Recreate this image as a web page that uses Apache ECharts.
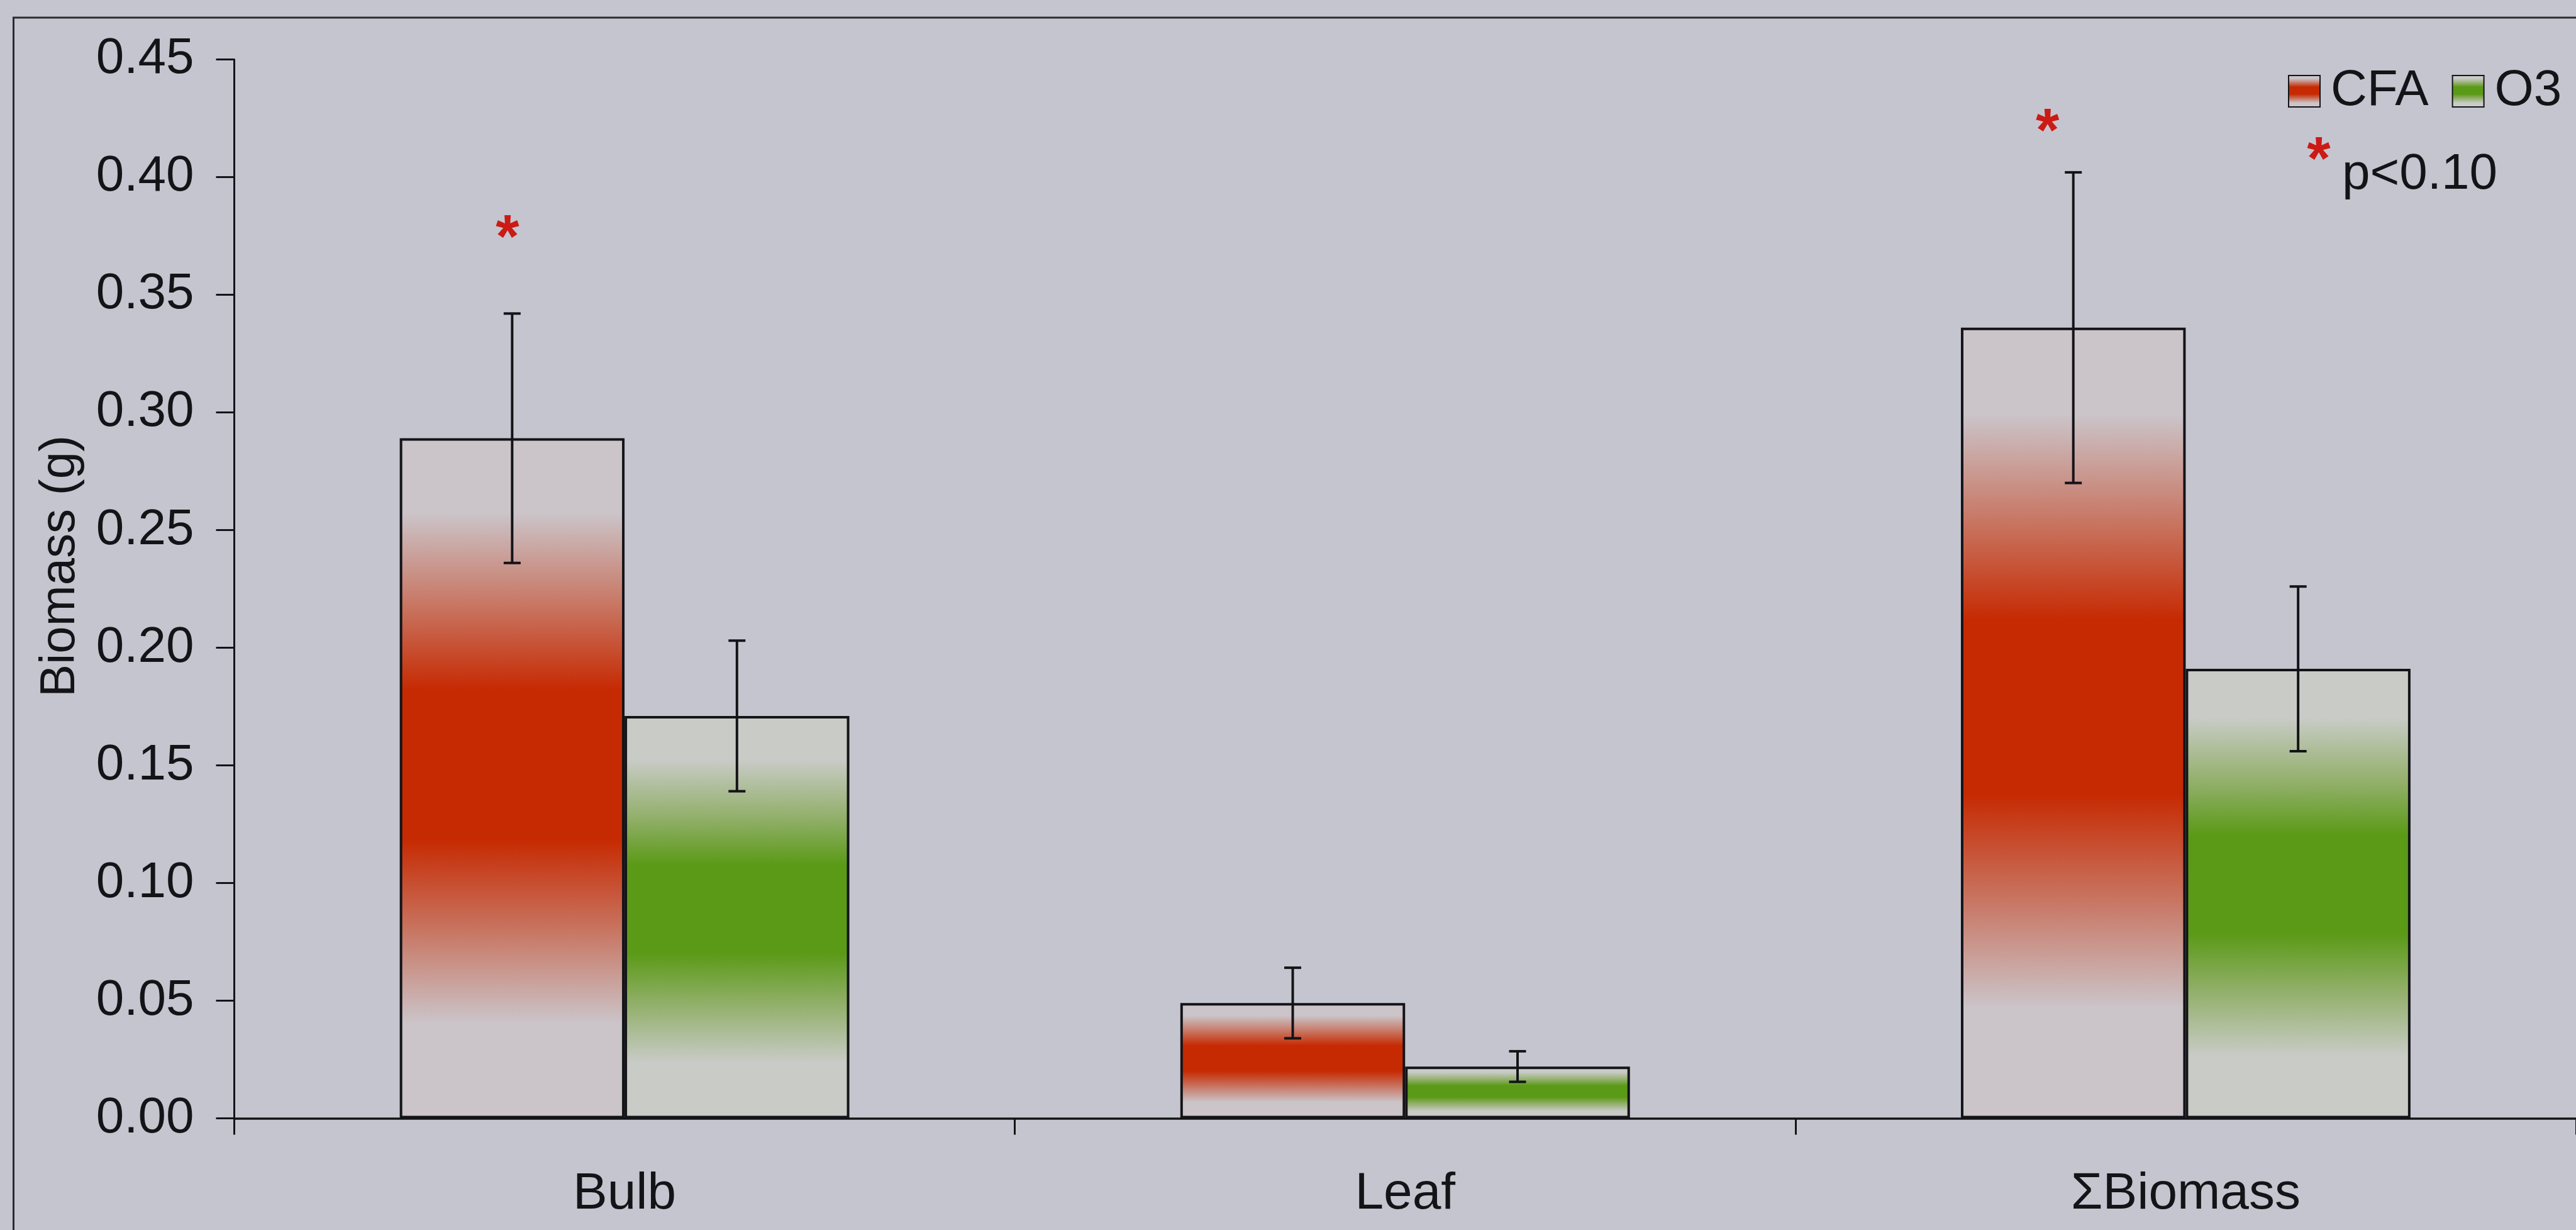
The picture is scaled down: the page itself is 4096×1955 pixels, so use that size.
<!DOCTYPE html>
<html>
<head>
<meta charset="utf-8">
<script src="https://cdn.jsdelivr.net/npm/echarts@6/dist/echarts.min.js"></script>
<style>
  html, body { margin: 0; padding: 0; background: #c5c5cf; }
  #chart { width: 4096px; height: 1955px; }
</style>
</head>
<body>
<div id="chart"></div>
<script>
// ---- data ----
const categories = ['Bulb', 'Leaf', 'ΣBiomass'];
const seriesNames = ['CFA', 'O3'];
const cfaMean = [0.289, 0.049, 0.336];
const cfaErr = [0.053, 0.015, 0.066];
const o3Mean = [0.171, 0.022, 0.191];
const o3Err = [0.032, 0.0065, 0.035];
const yMin = 0, yMax = 0.45, yStep = 0.05;
// significance stars: category, height (g), shift from the category centre (in bands)
const sigCategory = [0, 2];
const sigHeight = [0.379, 0.424];
const sigShift = [-0.150, -0.177];
const yTitle = 'Biomass (g)';
const noteText = 'p<0.10';

// ---- styling ----
const FONT = "'Liberation Sans', Arial, Helvetica, sans-serif";
const INK = '#141418';
const STAR_RED = '#cc1a14';
const BAR_FRAC = 0.288;       // bar width as a share of the category band
const STAR_SIZE = 96;

function bandFill(light, mid, core) {
  return new echarts.graphic.LinearGradient(0, 0, 0, 1, [
    { offset: 0, color: light },
    { offset: 0.11, color: light },
    { offset: 0.25, color: mid },
    { offset: 0.37, color: core },
    { offset: 0.59, color: core },
    { offset: 0.72, color: mid },
    { offset: 0.86, color: light },
    { offset: 1, color: light }
  ]);
}
const redFill = bandFill('#cbc4c9', '#c8735f', '#c62a02');
const greenFill = bandFill('#c8cbc6', '#93b06c', '#5b9a17');

function barSeries(name, values, fill) {
  return {
    type: 'bar',
    name: name,
    data: values,
    barWidth: (BAR_FRAC * 100) + '%',
    barGap: '0%',
    itemStyle: { color: fill, borderColor: INK, borderWidth: 4 },
    z: 2
  };
}

function errorSeries(means, errs, side) {
  return {
    type: 'custom',
    silent: true,
    encode: { x: 0, y: [1, 2] },
    data: means.map((m, i) => [i, m - errs[i], m + errs[i]]),
    z: 5,
    renderItem(params, api) {
      const i = api.value(0);
      const lo = api.coord([i, api.value(1)]);
      const hi = api.coord([i, api.value(2)]);
      const band = api.size([1, 0])[0];
      const x = lo[0] + side * band * BAR_FRAC / 2;
      const half = 13.5;
      const st = { stroke: INK, lineWidth: 4 };
      return {
        type: 'group',
        children: [
          { type: 'line', shape: { x1: x, y1: lo[1], x2: x, y2: hi[1] }, style: st },
          { type: 'line', shape: { x1: x - half, y1: hi[1], x2: x + half, y2: hi[1] }, style: st },
          { type: 'line', shape: { x1: x - half, y1: lo[1], x2: x + half, y2: lo[1] }, style: st }
        ]
      };
    }
  };
}

const starSeries = {
  type: 'custom',
  silent: true,
  encode: { x: 0, y: 1 },
  data: sigCategory.map((c, k) => [c, sigHeight[k], sigShift[k]]),
  z: 6,
  renderItem(params, api) {
    const p = api.coord([api.value(0), api.value(1)]);
    const band = api.size([1, 0])[0];
    return {
      type: 'text',
      x: p[0] + api.value(2) * band,
      y: p[1] + STAR_SIZE * 0.22,
      style: {
        text: '*', fontSize: STAR_SIZE, fontWeight: 'bold', fontFamily: FONT,
        fill: STAR_RED, align: 'center', verticalAlign: 'middle'
      }
    };
  }
};

const chart = echarts.init(document.getElementById('chart'), null, { renderer: 'canvas' });
chart.setOption({
  animation: false,
  backgroundColor: '#c5c5cf',
  textStyle: { fontFamily: FONT, color: INK },
  grid: { left: 372.5, top: 94.4, width: 3743, height: 1683.1, containLabel: false },
  legend: {
    data: seriesNames,
    left: 3633,
    top: 100,
    itemWidth: 50,
    itemHeight: 50,
    itemGap: 37,
    icon: 'rect',
    selectedMode: false,
    textStyle: { fontSize: 80, fontFamily: FONT, color: INK, padding: [0, 0, 0, 12] }
  },
  xAxis: {
    type: 'category',
    data: categories,
    axisLine: { lineStyle: { color: INK, width: 3.5 } },
    axisTick: { show: true, length: 26, lineStyle: { color: INK, width: 3 } },
    axisLabel: { fontSize: 82, fontFamily: FONT, color: INK, margin: 80 },
    splitLine: { show: false }
  },
  yAxis: {
    type: 'value',
    min: yMin,
    max: yMax,
    interval: yStep,
    axisLine: { show: true, lineStyle: { color: INK, width: 3 } },
    axisTick: { show: true, length: 29, lineStyle: { color: INK, width: 3 } },
    axisLabel: { fontSize: 80, fontFamily: FONT, color: INK, margin: 64, formatter: v => v.toFixed(2) },
    splitLine: { show: false }
  },
  graphic: [
    {
      type: 'rect', silent: true, z: -1,
      shape: { x: 21.5, y: 28, width: 6000, height: 4000 },
      style: { fill: null, stroke: '#2c2c30', lineWidth: 3 }
    },
    {
      type: 'text', silent: true,
      x: 96, y: 900, rotation: Math.PI / 2,
      style: { text: yTitle, fontSize: 78, fontFamily: FONT, fill: INK, align: 'center', verticalAlign: 'middle' }
    },
    {
      type: 'text', silent: true,
      x: 3687, y: 236 + STAR_SIZE * 0.22,
      style: { text: '*', fontSize: STAR_SIZE, fontWeight: 'bold', fontFamily: FONT, fill: STAR_RED, align: 'center', verticalAlign: 'middle' }
    },
    {
      type: 'text', silent: true,
      x: 3724, y: 278,
      style: { text: noteText, fontSize: 80, fontFamily: FONT, fill: INK, align: 'left', verticalAlign: 'middle' }
    }
  ],
  series: [
    barSeries(seriesNames[0], cfaMean, redFill),
    barSeries(seriesNames[1], o3Mean, greenFill),
    errorSeries(cfaMean, cfaErr, -1),
    errorSeries(o3Mean, o3Err, 1),
    starSeries
  ]
});
</script>
</body>
</html>
